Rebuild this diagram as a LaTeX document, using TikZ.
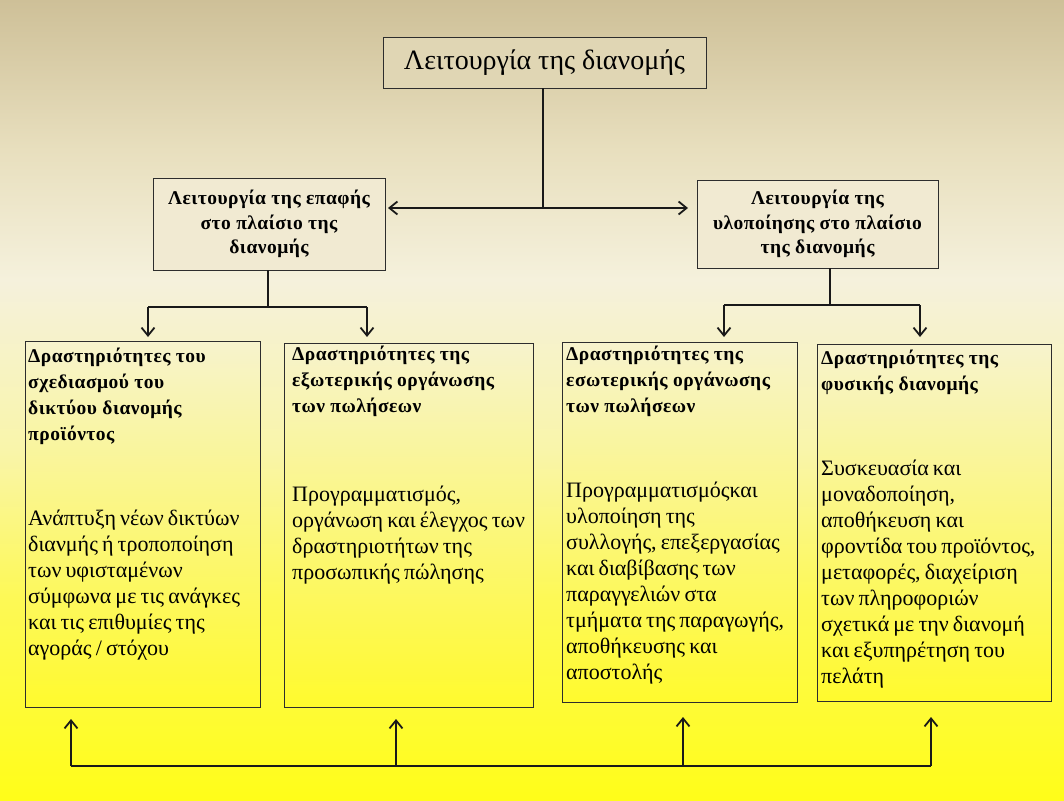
\documentclass[tikz,border=0pt]{standalone}
\usepackage{fontspec}
\setmainfont{Liberation Serif}
\usetikzlibrary{arrows.meta}

% page background: tan at the top, pale cream in the middle, yellow at the bottom
\definecolor{bgA}{RGB}{255,253,25}
\definecolor{bgB}{RGB}{253,249,85}
\definecolor{bgC}{RGB}{249,245,170}
\definecolor{bgD}{RGB}{245,241,220}
\definecolor{bgE}{RGB}{232,223,190}
\definecolor{bgF}{RGB}{206,192,152}
\pgfdeclareverticalshading{pagebg}{100bp}{%
  color(0bp)=(bgA); color(25bp)=(bgA); color(37.5bp)=(bgB);
  color(46.9bp)=(bgC); color(57.5bp)=(bgD); color(65.6bp)=(bgE);
  color(75bp)=(bgF); color(100bp)=(bgF)}

\definecolor{edge}{RGB}{45,45,45}
\definecolor{topfill}{RGB}{224,214,180}
\definecolor{midfill}{RGB}{241,234,210}
\definecolor{boxtop}{RGB}{247,243,205}
\definecolor{boxbot}{RGB}{255,250,45}

% spaced bold for the headings, tighter word spacing for the body text
\newfontfamily\headface[LetterSpace=2.5]{Liberation Serif}
\newfontfamily\bodyface[WordSpace=0.75]{Liberation Serif}

\tikzset{
  framebox/.style={draw=edge, line width=0.9pt, inner sep=0pt, outer sep=0pt},
  headbox/.style={framebox, fill=topfill, minimum width=323pt, minimum height=51pt,
    font=\fontsize{28}{32}\selectfont},
  subbox/.style={framebox, fill=midfill, align=center,
    font=\headface\fontsize{19.5}{24.5}\selectfont\bfseries},
  actbox/.style={framebox, anchor=north west, top color=boxtop, bottom color=boxbot},
  acthead/.style={anchor=north west, inner sep=0pt, align=left,
    font=\headface\fontsize{19.5}{26}\selectfont\bfseries},
  actbody/.style={anchor=north west, inner sep=0pt, align=left,
    font=\bodyface\fontsize{22}{26}\selectfont},
  link/.style={draw=black!90, line width=1.8pt},
  tip/.style={-{Straight Barb[length=8pt,width=13pt]}},
}

\begin{document}
\begin{tikzpicture}[x=1pt, y=-1pt]
\useasboundingbox (0,0) rectangle (1064,800);
\fill[shading=pagebg] (0,0) rectangle (1064,800);

% top level
\node[headbox] (top) at (544.5,62.5) {Λειτουργία της διανομής};

% second level
\node[subbox, minimum width=232pt, minimum height=92pt] (mL) at (269,224)
  {Λειτουργία της επαφής\\στο πλαίσιο της\\διανομής};
\node[subbox, minimum width=241pt, minimum height=88pt] (mR) at (817.5,224)
  {Λειτουργία της\\υλοποίησης στο πλαίσιο\\της διανομής};

% activity boxes
\node[actbox, minimum width=235pt, minimum height=366pt] (b1) at (25,341) {};
\node[actbox, minimum width=249pt, minimum height=364pt] (b2) at (284,343) {};
\node[actbox, minimum width=235pt, minimum height=360pt] (b3) at (562,342) {};
\node[actbox, minimum width=234pt, minimum height=357pt] (b4) at (817,344) {};

\node[acthead] (b1h) at (28,348)
  {Δραστηριότητες του\\σχεδιασμού του\\δικτύου διανομής\\προϊόντος};
\node[actbody] (b1b) at (28,510)
  {Ανάπτυξη νέων δικτύων\\διανμής ή τροποποίηση\\των υφισταμένων\\σύμφωνα με τις ανάγκες\\και τις επιθυμίες της\\αγοράς / στόχου};

\node[acthead] (b2h) at (292,346)
  {Δραστηριότητες της\\εξωτερικής οργάνωσης\\των πωλήσεων};
\node[actbody] (b2b) at (292,486)
  {Προγραμματισμός,\\οργάνωση και έλεγχος των\\δραστηριοτήτων της\\προσωπικής πώλησης};

\node[acthead] (b3h) at (566,346)
  {Δραστηριότητες της\\εσωτερικής οργάνωσης\\των πωλήσεων};
\node[actbody] (b3b) at (566,482)
  {Προγραμματισμόςκαι\\υλοποίηση της\\συλλογής, επεξεργασίας\\και διαβίβασης των\\παραγγελιών στα\\τμήματα της παραγωγής,\\αποθήκευσης και\\αποστολής};

\node[acthead] (b4h) at (821,350)
  {Δραστηριότητες της\\φυσικής διανομής};
\node[actbody] (b4b) at (821,460)
  {Συσκευασία και\\μοναδοποίηση,\\αποθήκευση και\\φροντίδα του προϊόντος,\\μεταφορές, διαχείριση\\των πληροφοριών\\σχετικά με την διανομή\\και εξυπηρέτηση του\\πελάτη};

% junction points of the connectors
\coordinate (jT) at (543,208);
\coordinate (jL) at (268,307);
\coordinate (aL1) at (148,307);
\coordinate (aL2) at (367,307);
\coordinate (jR) at (830,305);
\coordinate (aR1) at (724,305);
\coordinate (aR2) at (920,305);
\coordinate (u1) at (71,766);
\coordinate (u2) at (396,766);
\coordinate (u3) at (683,766);
\coordinate (u4) at (931,766);

% top to the second level
\draw[link] (top.south -| jT) -- (jT);
\draw[link, {Straight Barb[length=8pt,width=13pt]}-{Straight Barb[length=8pt,width=13pt]},
  shorten <=3pt, shorten >=9pt] (mL.east |- jT) -- (mR.west |- jT);

% left branch
\draw[link] (mL.south -| jL) -- (jL);
\draw[link] (aL1) -- (aL2);
\draw[link, tip, shorten >=4pt] (aL1) -- (aL1 |- b1.north);
\draw[link, tip, shorten >=6pt] (aL2) -- (aL2 |- b2.north);

% right branch
\draw[link] (mR.south -| jR) -- (jR);
\draw[link] (aR1) -- (aR2);
\draw[link, tip, shorten >=5pt] (aR1) -- (aR1 |- b3.north);
\draw[link, tip, shorten >=7pt] (aR2) -- (aR2 |- b4.north);

% feedback line along the bottom
\draw[link] (u1) -- (u4);
\draw[link, tip, shorten >=12pt] (u1) -- (u1 |- b1.south);
\draw[link, tip, shorten >=12pt] (u2) -- (u2 |- b2.south);
\draw[link, tip, shorten >=15pt] (u3) -- (u3 |- b3.south);
\draw[link, tip, shorten >=16pt] (u4) -- (u4 |- b4.south);
\end{tikzpicture}
\end{document}
